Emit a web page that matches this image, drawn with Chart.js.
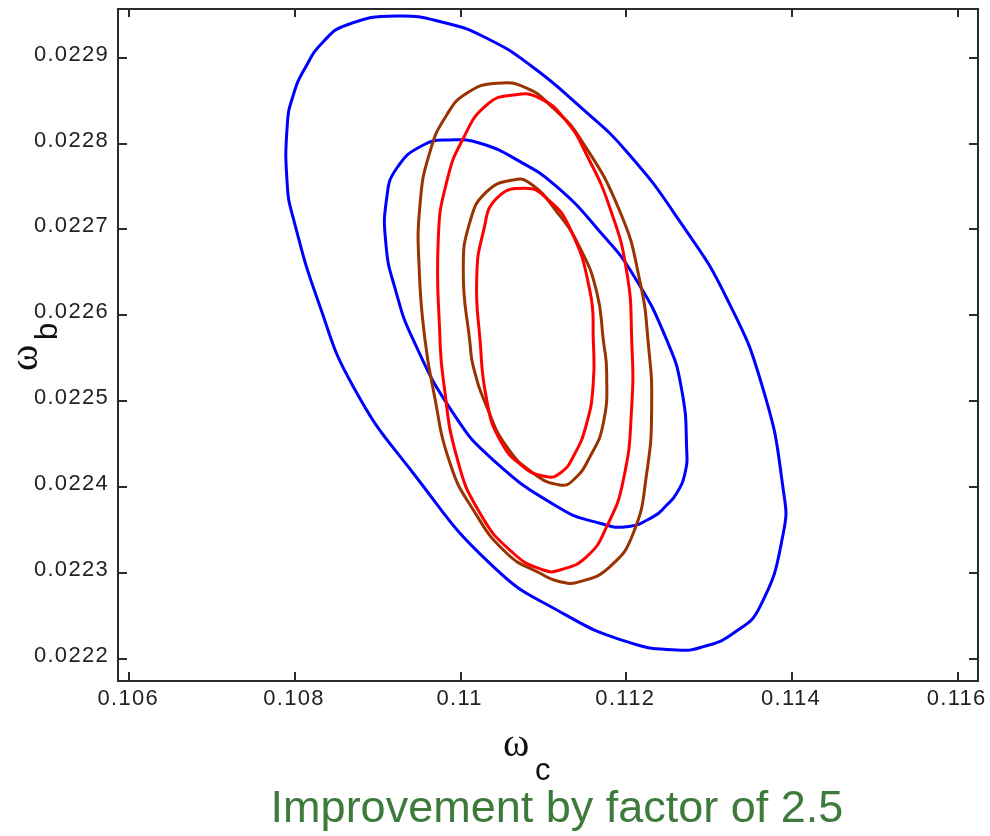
<!DOCTYPE html>
<html>
<head>
<meta charset="utf-8">
<title>omega_b vs omega_c contours</title>
<script src="https://cdn.jsdelivr.net/npm/chart.js@4.4.1/dist/chart.umd.min.js"></script>
<style>
  html, body { margin: 0; padding: 0; background: #fff; }
  #wrap { width: 990px; height: 836px; }
</style>
</head>
<body>
<div id="wrap"><canvas id="chart" width="990" height="836"></canvas></div>
<script>
// Axis ticks
const xTicks = [0.106, 0.108, 0.110, 0.112, 0.114, 0.116];
const xTickLabels = ['0.106', '0.108', '0.11', '0.112', '0.114', '0.116'];
const yTicks = [0.0222, 0.0223, 0.0224, 0.0225, 0.0226, 0.0227, 0.0228, 0.0229];
const yTickLabels = ['0.0222', '0.0223', '0.0224', '0.0225', '0.0226', '0.0227', '0.0228', '0.0229'];

// Contours [omega_c, omega_b], clockwise from the top
const blueOuter = [
  [0.109228, 0.0229486], [0.109832, 0.0229401], [0.110315, 0.0229226], [0.110837, 0.0228915],
  [0.111441, 0.0228429], [0.112005, 0.0227905], [0.112648, 0.0227090], [0.113212, 0.0226198],
  [0.113654, 0.0225130], [0.113895, 0.0223965], [0.113895, 0.0223461], [0.113614, 0.0222606],
  [0.113292, 0.0222296], [0.112929, 0.0222140], [0.112608, 0.0222101], [0.112005, 0.0222198],
  [0.111199, 0.0222547], [0.110394, 0.0223072], [0.109428, 0.0224160], [0.108704, 0.0225168],
  [0.108282, 0.0226158], [0.107980, 0.0227129], [0.107907, 0.0227517], [0.107907, 0.0228216],
  [0.107980, 0.0228566], [0.108121, 0.0228877], [0.108342, 0.0229186], [0.108625, 0.0229381]
];
const blueInner = [
  [0.109872, 0.0228041], [0.110234, 0.0228003], [0.110717, 0.0227789], [0.111160, 0.0227497],
  [0.111682, 0.0226973], [0.112084, 0.0226469], [0.112488, 0.0225712], [0.112669, 0.0225130],
  [0.112729, 0.0224431], [0.112708, 0.0224160], [0.112608, 0.0223926], [0.112488, 0.0223790],
  [0.112326, 0.0223654], [0.112005, 0.0223537], [0.111682, 0.0223577], [0.111199, 0.0223752],
  [0.110394, 0.0224314], [0.109911, 0.0224858], [0.109428, 0.0225712], [0.109208, 0.0226314],
  [0.109099, 0.0226818], [0.109107, 0.0227362], [0.109228, 0.0227712], [0.109549, 0.0227983]
];
const brownOuter = [
  [0.110435, 0.0228702], [0.110797, 0.0228644], [0.111119, 0.0228411], [0.111441, 0.0228061],
  [0.111924, 0.0227206], [0.112165, 0.0226391], [0.112265, 0.0225674], [0.112306, 0.0224935],
  [0.112246, 0.0224160], [0.112084, 0.0223461], [0.111803, 0.0223072], [0.111441, 0.0222897],
  [0.111199, 0.0222897], [0.110958, 0.0222995], [0.110556, 0.0223228], [0.110153, 0.0223732],
  [0.109872, 0.0224276], [0.109670, 0.0225130], [0.109570, 0.0225712], [0.109501, 0.0226507],
  [0.109509, 0.0227284], [0.109630, 0.0227905], [0.109832, 0.0228333], [0.110073, 0.0228585]
];
const brownInner = [
  [0.110636, 0.0227576], [0.110837, 0.0227537], [0.111160, 0.0227206], [0.111441, 0.0226784],
  [0.111642, 0.0226275], [0.111722, 0.0225712], [0.111763, 0.0225324], [0.111722, 0.0224742],
  [0.111562, 0.0224353], [0.111360, 0.0224081], [0.111199, 0.0224023], [0.110877, 0.0224160],
  [0.110556, 0.0224469], [0.110315, 0.0224935], [0.110153, 0.0225401], [0.110113, 0.0225674],
  [0.110032, 0.0226507], [0.110113, 0.0227090], [0.110315, 0.0227439]
];
const redOuter = [
  [0.110636, 0.0228566], [0.110958, 0.0228527], [0.111280, 0.0228255], [0.111522, 0.0227867],
  [0.111803, 0.0227246], [0.112005, 0.0226507], [0.112065, 0.0225712], [0.112065, 0.0224935],
  [0.111964, 0.0224081], [0.111763, 0.0223537], [0.111522, 0.0223188], [0.111199, 0.0223033],
  [0.110998, 0.0223033], [0.110636, 0.0223228], [0.110234, 0.0223693], [0.109952, 0.0224353],
  [0.109791, 0.0225246], [0.109751, 0.0225712], [0.109730, 0.0226896], [0.109832, 0.0227556],
  [0.110032, 0.0228061], [0.110315, 0.0228449]
];
const redInner = [
  [0.110777, 0.0227479], [0.111039, 0.0227362], [0.111320, 0.0227013], [0.111562, 0.0226275],
  [0.111601, 0.0225712], [0.111601, 0.0225208], [0.111522, 0.0224742], [0.111360, 0.0224353],
  [0.111199, 0.0224160], [0.111039, 0.0224120], [0.110756, 0.0224236], [0.110475, 0.0224547],
  [0.110315, 0.0225013], [0.110234, 0.0225712], [0.110194, 0.0226431], [0.110274, 0.0226973],
  [0.110435, 0.0227362]
];

const BLUE = '#0000ff';
const BROWN = '#993300';
const RED = '#ff0000';

// wrap a closed contour so every drawn point has both neighbours (smooth join)
function loop(pts) {
  const n = pts.length;
  return [pts[n - 1], ...pts, pts[0], pts[1]].map(p => ({ x: p[0], y: p[1] }));
}

function hideEnds(ctx) {
  const len = ctx.chart.data.datasets[ctx.datasetIndex].data.length;
  if (ctx.p0DataIndex === 0 || ctx.p1DataIndex === len - 1) return 'rgba(0,0,0,0)';
  return undefined;
}

function contour(label, pts, color, order) {
  return {
    label: label,
    data: loop(pts),
    borderColor: color,
    borderWidth: 3,
    pointRadius: 0,
    pointHitRadius: 0,
    tension: 0.5,
    fill: false,
    order: order,
    borderJoinStyle: 'round',
    borderCapStyle: 'round',
    segment: { borderColor: hideEnds }
  };
}

// frame, inward ticks and the extra titles
const frameAndText = {
  id: 'frameAndText',
  beforeDraw(chart) {
    // tick labels in the original are loosely spaced
    chart.ctx.letterSpacing = '1.3px';
  },
  afterDraw(chart) {
    const { ctx, chartArea: a, scales } = chart;
    ctx.save();
    ctx.letterSpacing = '0px';
    ctx.strokeStyle = '#2b2b2b';
    ctx.lineWidth = 2;
    ctx.strokeRect(a.left, a.top, a.right - a.left, a.bottom - a.top);
    ctx.beginPath();
    xTicks.forEach(v => {
      const px = Math.round(scales.x.getPixelForValue(v));
      ctx.moveTo(px, a.bottom); ctx.lineTo(px, a.bottom - 9);
      ctx.moveTo(px, a.top); ctx.lineTo(px, a.top + 8);
    });
    yTicks.forEach(v => {
      const py = Math.round(scales.y.getPixelForValue(v));
      ctx.moveTo(a.left, py); ctx.lineTo(a.left + 9, py);
      ctx.moveTo(a.right, py); ctx.lineTo(a.right - 9, py);
    });
    ctx.stroke();

    ctx.fillStyle = '#111';
    ctx.textAlign = 'left';
    ctx.textBaseline = 'alphabetic';
    // x title: omega_c
    ctx.font = '40px "Liberation Serif"';
    ctx.fillText('ω', 503, 756);
    ctx.font = '31px "Liberation Sans"';
    ctx.fillText('c', 535, 780);
    // y title: omega_b (rotated)
    ctx.save();
    ctx.translate(37, 371);
    ctx.rotate(-Math.PI / 2);
    ctx.font = '40px "Liberation Serif"';
    ctx.fillText('ω', 0, 0);
    ctx.font = '31px "Liberation Sans"';
    ctx.fillText('b', 31, 20);
    ctx.restore();

    // caption
    ctx.fillStyle = '#3d7a3c';
    ctx.textAlign = 'center';
    ctx.font = '45px "Liberation Sans"';
    ctx.fillText('Improvement by factor of 2.5', 557, 822);
    ctx.restore();
  }
};

const tickFont = { family: 'Liberation Sans', size: 22 };

new Chart(document.getElementById('chart'), {
  type: 'line',
  data: {
    datasets: [
      contour('blue outer', blueOuter, BLUE, 6),
      contour('blue inner', blueInner, BLUE, 5),
      contour('brown outer', brownOuter, BROWN, 4),
      contour('brown inner', brownInner, BROWN, 3),
      contour('red outer', redOuter, RED, 2),
      contour('red inner', redInner, RED, 1)
    ]
  },
  options: {
    responsive: false,
    animation: false,
    devicePixelRatio: 1,
    layout: { padding: { left: 0, top: 9, right: 12, bottom: 0 } },
    plugins: {
      legend: { display: false },
      tooltip: { enabled: false },
      title: { display: false }
    },
    scales: {
      x: {
        type: 'linear',
        min: 0.1058636,
        max: 0.1162455,
        grid: { display: false, drawTicks: false },
        border: { display: false },
        afterBuildTicks: s => { s.ticks = xTicks.map(v => ({ value: v })); },
        afterFit: s => { s.height = 155; s.paddingLeft = 0; s.paddingRight = 0; },
        ticks: {
          font: tickFont,
          color: '#222',
          padding: 5,
          labelOffset: -1,
          maxRotation: 0,
          autoSkip: false,
          callback: (v, i) => xTickLabels[i]
        }
      },
      y: {
        type: 'linear',
        min: 0.0221740,
        max: 0.0229567,
        grid: { display: false, drawTicks: false },
        border: { display: false },
        afterBuildTicks: s => { s.ticks = yTicks.map(v => ({ value: v })); },
        afterFit: s => { s.width = 118; s.paddingTop = 0; s.paddingBottom = 0; },
        ticks: {
          font: tickFont,
          color: '#222',
          padding: 9,
          labelOffset: -3,
          autoSkip: false,
          callback: (v, i) => yTickLabels[i]
        }
      }
    }
  },
  plugins: [frameAndText]
});
</script>
</body>
</html>
